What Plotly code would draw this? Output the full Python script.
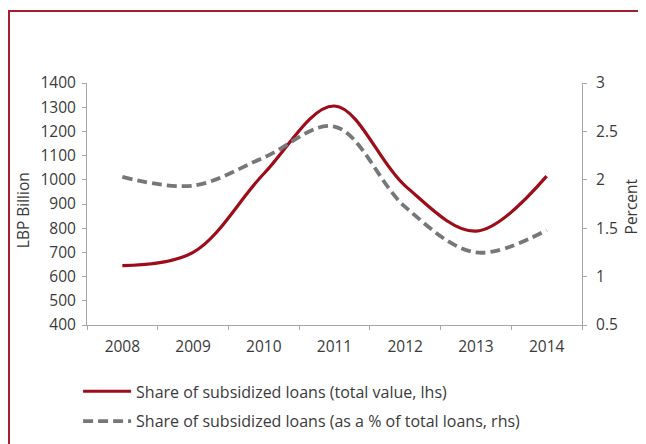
import plotly.graph_objects as go

years = ["2008", "2009", "2010", "2011", "2012", "2013", "2014"]
total_value = [645, 700, 1025, 1305, 975, 788, 1015]
pct_of_loans = [2.03, 1.94, 2.23, 2.55, 1.72, 1.25, 1.48]

name_value = "Share of subsidized loans (total value, lhs)"
name_pct = "Share of subsidized loans (as a % of total loans, rhs)"

RED = "#9E0B19"
GRAY = "#76777A"
AXIS = "#A6A6A6"
TXT = "#3A3A3A"
FONT = "Open Sans, Noto Sans, sans-serif"
FS = 15.5

fig = go.Figure()
fig.add_trace(go.Scatter(
    x=years, y=total_value, name=name_value, mode="lines", legendgroup="a",
    line=dict(color=RED, width=3.2, shape="spline", smoothing=1.0),
    yaxis="y"))
fig.add_trace(go.Scatter(
    x=years, y=pct_of_loans, name=name_pct, mode="lines", legendgroup="b",
    line=dict(color=GRAY, width=3.8, shape="spline", smoothing=1.0, dash="10px,5px"),
    yaxis="y2"))

fig.update_layout(
    width=638, height=436,
    margin=dict(l=79, r=64, t=75, b=119, autoexpand=False),
    paper_bgcolor="white", plot_bgcolor="white",
    font=dict(family=FONT, size=FS, color=TXT),
    showlegend=True,
    legend=dict(x=-0.018, y=-0.204, xanchor="left", yanchor="top",
                bgcolor="rgba(0,0,0,0)", itemwidth=48, tracegroupgap=6,
                font=dict(size=16, color=TXT)),
    xaxis=dict(type="category", range=[-0.5, 6.5], showgrid=False,
               showline=True, linecolor=AXIS, linewidth=1,
               ticks="outside", ticklen=4, tickcolor=AXIS, tickson="boundaries",
               ticklabelstandoff=7, automargin=False,
               tickfont=dict(size=FS, color=TXT)),
    yaxis=dict(range=[400, 1400], dtick=100, showgrid=False, zeroline=False,
               showline=True, linecolor=AXIS, linewidth=1, automargin=False,
               ticks="outside", ticklen=4, tickcolor=AXIS, ticklabelstandoff=3,
               tickfont=dict(size=FS, color=TXT)),
    yaxis2=dict(range=[0.5, 3], dtick=0.5, overlaying="y", side="right",
                showgrid=False, zeroline=False, automargin=False,
                showline=True, linecolor=AXIS, linewidth=1,
                ticks="outside", ticklen=4, tickcolor=AXIS, ticklabelstandoff=6,
                tickfont=dict(size=FS, color=TXT)),
    shapes=[dict(type="rect", xref="paper", yref="paper",
                 x0=-0.1576, x1=1.3, y0=-0.8, y1=1.2975,
                 line=dict(color="#A31F2E", width=2), fillcolor="rgba(0,0,0,0)",
                 layer="below")],
    annotations=[
        dict(text="LBP Billion", xref="paper", yref="paper", x=-0.129, y=0.475,
             textangle=-90, showarrow=False, xanchor="center", yanchor="middle",
             font=dict(size=FS, color=TXT)),
        dict(text="Percent", xref="paper", yref="paper", x=1.099, y=0.49,
             textangle=-90, showarrow=False, xanchor="center", yanchor="middle",
             font=dict(size=FS, color=TXT)),
    ],
)

fig.write_html("out.html")
